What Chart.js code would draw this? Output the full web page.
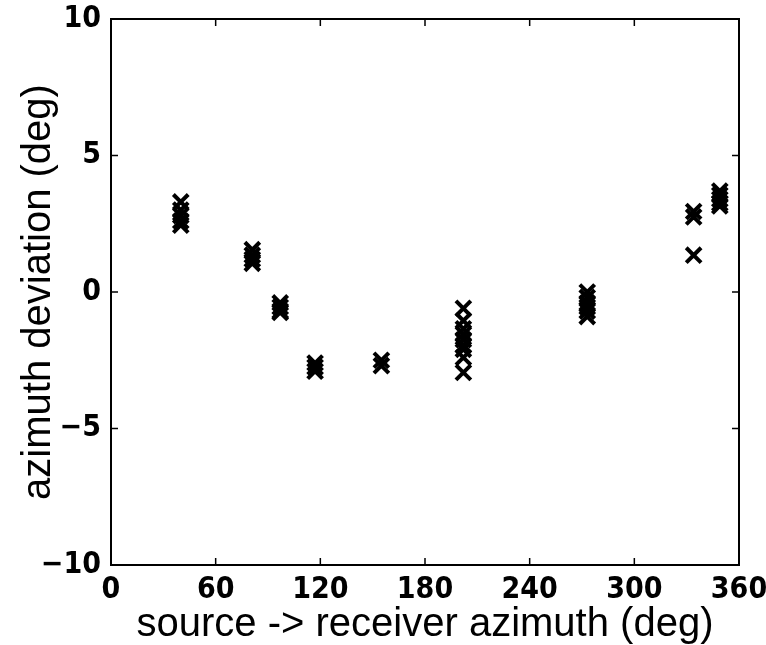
<!DOCTYPE html>
<html>
<head>
<meta charset="utf-8">
<script src="https://cdn.jsdelivr.net/npm/chart.js@4"></script>
<style>
html,body{margin:0;padding:0;background:#fff;}
#wrap{width:766px;height:645px;position:relative;}
</style>
</head>
<body>
<div id="wrap"><canvas id="c" width="766" height="645"></canvas></div>
<script>
// Data
const azimuth = [
  40, 40, 40, 40, 40,
  81, 81, 81, 81,
  97, 97, 97, 97,
  117, 117, 117,
  155, 155,
  202, 202, 202, 202, 202, 202, 202, 202, 202,
  273, 273, 273, 273, 273, 273,
  334, 334, 334,
  349, 349, 349, 349, 349
];
const deviation = [
  3.3, 3.0, 2.8, 2.6, 2.45,
  1.55, 1.35, 1.2, 1.05,
  -0.4, -0.55, -0.7, -0.75,
  -2.6, -2.75, -2.9,
  -2.5, -2.7,
  -0.6, -1.05, -1.35, -1.55, -1.75, -1.95, -2.1, -2.4, -2.95,
  0.0, -0.2, -0.4, -0.55, -0.7, -0.9,
  2.95, 2.75, 1.35,
  3.7, 3.55, 3.4, 3.25, 3.15
];
const xTicks = [0, 60, 120, 180, 240, 300, 360];
const yTicks = [-10, -5, 0, 5, 10];
const xTitle = 'source -> receiver azimuth (deg)';
const yTitle = 'azimuth deviation (deg)';

const points = azimuth.map((a, i) => ({x: a, y: deviation[i]}));

const tickFont = {family: "'Liberation Sans Narrow','DejaVu Sans Condensed','Liberation Sans',Arial,sans-serif", size: 30, weight: 'bold'};
const titleFont = {family: "'Liberation Sans',Arial,sans-serif", size: 40, weight: 'normal'};

const boxPlugin = {
  id: 'box',
  afterDraw(chart) {
    const {ctx, chartArea: a, scales} = chart;
    ctx.save();
    ctx.strokeStyle = '#000';
    ctx.lineWidth = 2;
    ctx.strokeRect(a.left, a.top, a.right - a.left, a.bottom - a.top);
    const L = 7;
    ctx.lineWidth = 1.5;
    ctx.beginPath();
    xTicks.forEach(v => {
      const px = scales.x.getPixelForValue(v);
      ctx.moveTo(px, a.bottom); ctx.lineTo(px, a.bottom - L);
      ctx.moveTo(px, a.top); ctx.lineTo(px, a.top + L);
    });
    yTicks.forEach(v => {
      const py = scales.y.getPixelForValue(v);
      ctx.moveTo(a.left, py); ctx.lineTo(a.left + L, py);
      ctx.moveTo(a.right, py); ctx.lineTo(a.right - L, py);
    });
    ctx.stroke();
    ctx.restore();
  }
};

new Chart(document.getElementById('c'), {
  type: 'scatter',
  data: {
    datasets: [{
      data: points,
      pointStyle: 'crossRot',
      pointRadius: 10.5,
      pointHoverRadius: 10.5,
      borderColor: '#000',
      backgroundColor: '#000',
      pointBorderWidth: 4,
      showLine: false
    }]
  },
  options: {
    responsive: false,
    animation: false,
    devicePixelRatio: 1,
    layout: {padding: {top: 19, right: 27, left: 0, bottom: 0}},
    plugins: {legend: {display: false}, tooltip: {enabled: false}},
    scales: {
      x: {
        type: 'linear', min: 0, max: 360,
        afterBuildTicks: s => { s.ticks = xTicks.map(v => ({value: v})); },
        afterFit: s => { s.height = 80; s.paddingLeft = 0; s.paddingRight = 0; },
        grid: {display: false, drawTicks: false},
        border: {display: false},
        ticks: {color: '#000', font: tickFont, padding: 7, maxRotation: 0},
        title: {display: true, text: xTitle, color: '#000', font: titleFont, padding: {top: 0, bottom: -4}}
      },
      y: {
        type: 'linear', min: -10, max: 10,
        afterBuildTicks: s => { s.ticks = yTicks.map(v => ({value: v})); },
        afterFit: s => { s.width = 111; s.paddingTop = 0; s.paddingBottom = 0; },
        grid: {display: false, drawTicks: false},
        border: {display: false},
        ticks: {color: '#000', font: tickFont, padding: 10,
          callback: v => (v < 0 ? '\u2212' + Math.abs(v) : String(v))},
        title: {display: true, text: yTitle, color: '#000', font: titleFont, padding: {top: 15, bottom: 0}}
      }
    }
  },
  plugins: [boxPlugin]
});
</script>
</body>
</html>
